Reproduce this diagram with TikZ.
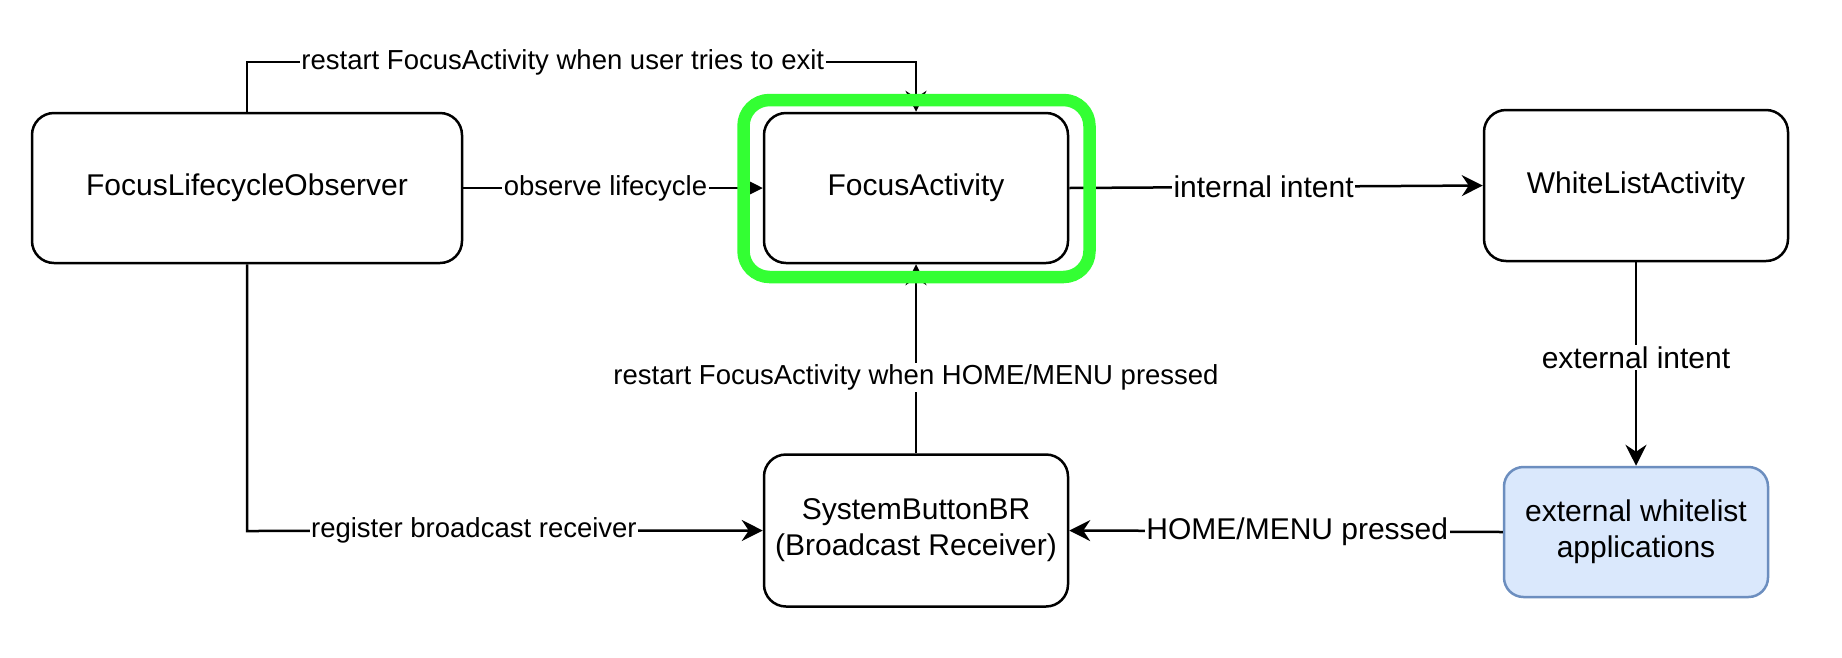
\documentclass[tikz,border=0pt]{standalone}
\usepackage{fontspec}
\setmainfont{Liberation Sans}
\usetikzlibrary{arrows.meta}
\definecolor{hlgreen}{HTML}{33FF33}
\definecolor{extfill}{HTML}{DAE8FC}
\definecolor{extdraw}{HTML}{6C8EBF}
\newcommand{\bigfnt}{\fontsize{30pt}{36pt}\selectfont}
\newcommand{\smallfnt}{\fontsize{27.5pt}{33pt}\selectfont}
\tikzset{
  box/.style={draw=black, fill=white, line width=2.5pt, rounded corners=22pt,
    align=center, font=\bigfnt, inner sep=0pt},
  edge/.style={draw=black, line width=2.5pt, -{Stealth[length=21pt,width=21pt,inset=7pt]}},
  lbls/.style={fill=white, inner sep=1.5pt, font=\smallfnt},
  lblb/.style={fill=white, inner sep=1.5pt, font=\bigfnt},
}
\begin{document}
\begin{tikzpicture}[x=1pt,y=-1pt]
\useasboundingbox (0,0) rectangle (1842,657);
\fill[white] (0,0) rectangle (1842,657);

\node[box, minimum width=430pt, minimum height=150pt] (flo) at (247,188) {FocusLifecycleObserver};
\node[box, minimum width=304pt, minimum height=150pt] (fa) at (916,188) {FocusActivity};
\node[box, minimum width=304pt, minimum height=151pt] (wla) at (1636,185.5) {WhiteListActivity};
\node[box, minimum width=304pt, minimum height=152pt] (sbr) at (916,530.5) {SystemButtonBR\\(Broadcast Receiver)};
\node[box, draw=extdraw, fill=extfill, rounded corners=19.5pt, minimum width=264pt, minimum height=130pt] (ewa) at (1636,532) {external whitelist\\applications};

\coordinate (top) at (0,62);
\coordinate (bot) at (0,531);

\draw[edge] (flo.north) -- (flo.north |- top)
  -- node[lbls, pos=0.472] {restart FocusActivity when user tries to exit} (fa.north |- top)
  -- (fa.north);
\draw[edge] (flo.east) -- node[lbls, pos=0.475] {observe lifecycle} (fa.west);
\draw[edge] (fa.east) -- node[lblb, pos=0.47] {internal intent} (wla.west);
\draw[edge] (wla.south) -- node[lblb, pos=0.47] {external intent} (ewa.north);
\draw[edge] (ewa.west) -- node[lblb, pos=0.474] {HOME/MENU pressed} (sbr.east);
\draw[edge] (flo.south) -- (flo.south |- bot)
  -- node[lbls, pos=0.44] {register broadcast receiver} (sbr.west);
\draw[edge] (sbr.north) -- node[lbls, pos=0.4] {restart FocusActivity when HOME/MENU pressed} (fa.south);

\node[draw=hlgreen, line width=12.5pt, rounded corners=26pt, minimum width=346pt, minimum height=177pt, inner sep=0pt] (hl) at (916.5,188.5) {};
\end{tikzpicture}
\end{document}
